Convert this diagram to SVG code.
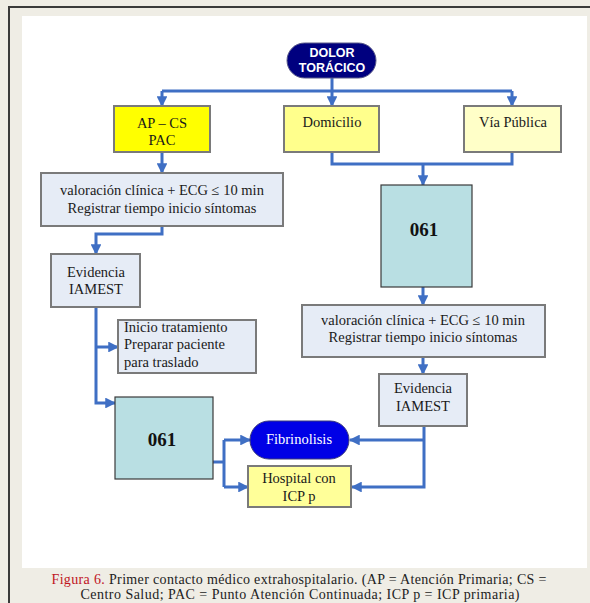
<svg xmlns="http://www.w3.org/2000/svg" width="590" height="603" viewBox="0 0 590 603">
  <style>
    .frame { fill: #efede5; }
    .panel { fill: #ffffff; }
    .box { stroke: #7a7a7a; stroke-width: 2; }
    .pale { fill: #e6ecf6; }
    .teal { fill: #b9dfe3; stroke: #3a3a3a; stroke-width: 1.2; }
    .t { font-family: "Liberation Serif", "Times New Roman", serif; font-size: 14.5px; fill: #1a1a1a; }
    .mid { text-anchor: middle; }
    .big { font-family: "Liberation Serif", "Times New Roman", serif; font-size: 19px; font-weight: bold; fill: #111; text-anchor: middle; }
    .head { font-family: "Liberation Sans", Arial, sans-serif; font-size: 12.5px; font-weight: bold; fill: #ffffff; text-anchor: middle; }
    .cap { font-family: "Liberation Serif", "Times New Roman", serif; font-size: 14px; fill: #222; text-anchor: middle; }
    .wire { fill: none; stroke: #3f6fc4; stroke-width: 3; stroke-linejoin: miter; }
  </style>
  <defs>
    <marker id="arrow" viewBox="0 0 10 10" refX="9" refY="5" markerWidth="3.6" markerHeight="3.6" orient="auto" markerUnits="strokeWidth">
      <path d="M0,0 L10,5 L0,10 Z" fill="#3f6fc4"/>
    </marker>
  </defs>

  <!-- page background and frame -->
  <rect class="frame" x="0" y="0" width="590" height="603"/>
  <rect class="panel" x="22" y="16" width="565" height="552"/>
  <line x1="9" y1="7" x2="590" y2="7" stroke="#3a3a3a" stroke-width="2"/>
  <line x1="9" y1="6" x2="9" y2="603" stroke="#3a3a3a" stroke-width="2"/>

  <!-- connectors -->
  <g id="connectors" class="wire">
    <path d="M332,78 V91"/>
    <path d="M162,91 H512"/>
    <path d="M162,91 V106" marker-end="url(#arrow)"/>
    <path d="M332,91 V106" marker-end="url(#arrow)"/>
    <path d="M512,91 V106" marker-end="url(#arrow)"/>
    <path d="M162,152 V173" marker-end="url(#arrow)"/>
    <path d="M162,226 V234 H96 V254" marker-end="url(#arrow)"/>
    <path d="M96,307 V403 H115" marker-end="url(#arrow)"/>
    <path d="M96,347 H118" marker-end="url(#arrow)"/>
    <path d="M332,152 V164 H512 V152"/>
    <path d="M423,164 V185" marker-end="url(#arrow)"/>
    <path d="M423,287 V305" marker-end="url(#arrow)"/>
    <path d="M423,357 V374" marker-end="url(#arrow)"/>
    <path d="M424,426 V487 H352" marker-end="url(#arrow)"/>
    <path d="M424,440 H350" marker-end="url(#arrow)"/>
    <path d="M213,462 H224"/>
    <path d="M224,440 V487"/>
    <path d="M224,440 H250" marker-end="url(#arrow)"/>
    <path d="M224,487 H248" marker-end="url(#arrow)"/>
  </g>

  <!-- nodes -->
  <g id="dolor-toracico">
    <rect x="287" y="43" width="89" height="35" rx="17.5" fill="#00007f" stroke="#5a5a8a" stroke-width="1"/>
    <text class="head" x="332" y="57">DOLOR</text>
    <text class="head" x="332" y="72">TORÁCICO</text>
  </g>

  <g id="ap-cs">
    <rect class="box" x="114" y="106" width="96" height="46" fill="#ffff00"/>
    <text class="t mid" x="162" y="128">AP – CS</text>
    <text class="t mid" x="162" y="145">PAC</text>
  </g>

  <g id="domicilio">
    <rect class="box" x="284" y="106" width="95" height="46" fill="#ffff8c"/>
    <text class="t mid" x="332" y="127">Domicilio</text>
  </g>

  <g id="via-publica">
    <rect class="box" x="464" y="106" width="97" height="46" fill="#ffffc8"/>
    <text class="t mid" x="513" y="127">Vía Pública</text>
  </g>

  <g id="valoracion-ap">
    <rect class="box pale" x="41" y="173" width="242" height="53"/>
    <text class="t mid" x="162" y="195">valoración clínica + ECG ≤ 10 min</text>
    <text class="t mid" x="162" y="213">Registrar tiempo inicio síntomas</text>
  </g>

  <g id="evidencia-ap">
    <rect class="box pale" x="51" y="254" width="89" height="53"/>
    <text class="t mid" x="96" y="277">Evidencia</text>
    <text class="t mid" x="96" y="294">IAMEST</text>
  </g>

  <g id="inicio-tratamiento">
    <rect class="box pale" x="118" y="320" width="138" height="53"/>
    <text class="t" x="124" y="332">Inicio tratamiento</text>
    <text class="t" x="124" y="349">Preparar paciente</text>
    <text class="t" x="124" y="367">para traslado</text>
  </g>

  <g id="061-ap">
    <rect class="teal" x="115" y="397" width="98" height="82"/>
    <text class="big" x="162" y="446">061</text>
  </g>

  <g id="061-externo">
    <rect class="teal" x="381" y="185" width="91" height="102"/>
    <text class="big" x="424" y="236">061</text>
  </g>

  <g id="valoracion-061">
    <rect class="box pale" x="302" y="305" width="243" height="52"/>
    <text class="t mid" x="423" y="325">valoración clínica + ECG ≤ 10 min</text>
    <text class="t mid" x="423" y="342">Registrar tiempo inicio síntomas</text>
  </g>

  <g id="evidencia-061">
    <rect class="box pale" x="379" y="374" width="88" height="52"/>
    <text class="t mid" x="423" y="393">Evidencia</text>
    <text class="t mid" x="423" y="411">IAMEST</text>
  </g>

  <g id="fibrinolisis">
    <rect x="250" y="421" width="99" height="38" rx="19" fill="#0000e6" stroke="#3a3a7a" stroke-width="1"/>
    <text class="t mid" x="299" y="444" style="fill:#ffffff">Fibrinolisis</text>
  </g>

  <g id="hospital-icp">
    <rect class="box" x="248" y="466" width="103" height="41" fill="#ffff99"/>
    <text class="t mid" x="299" y="483">Hospital con</text>
    <text class="t mid" x="299" y="501">ICP p</text>
  </g>

  <!-- caption -->
  <g id="caption">
    <text class="cap" x="299" y="584" textLength="495" lengthAdjust="spacing"><tspan fill="#c0141e">Figura 6.</tspan> Primer contacto médico extrahospitalario. (AP = Atención Primaria; CS =</text>
    <text class="cap" x="300" y="599" textLength="439" lengthAdjust="spacing">Centro Salud; PAC = Punto Atención Continuada; ICP p = ICP primaria)</text>
  </g>
</svg>
